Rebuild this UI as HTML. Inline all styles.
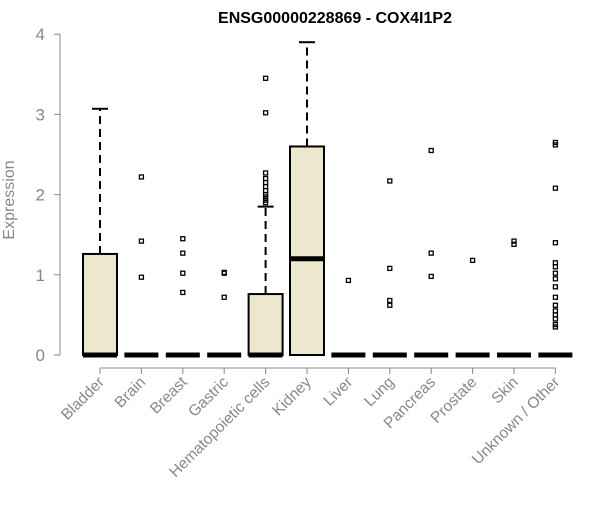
<!DOCTYPE html>
<html><head><meta charset="utf-8"><style>
body{margin:0;background:#fff}
text{font-family:"Liberation Sans",Arial,sans-serif}
</style></head><body>
<svg id="chart" width="600" height="500" xmlns="http://www.w3.org/2000/svg"></svg>
<script>
const categories=["Bladder","Brain","Breast","Gastric","Hematopoietic cells","Kidney","Liver","Lung","Pancreas","Prostate","Skin","Unknown / Other"];
const q1=[0,0,0,0,0,0,0,0,0,0,0,0];
const medians=[0,0,0,0,0,1.2,0,0,0,0,0,0];
const q3=[1.26,0,0,0,0.76,2.6,0,0,0,0,0,0];
const whiskHigh=[3.07,0,0,0,1.85,3.9,0,0,0,0,0,0];
const outliers=[[],[2.22,1.42,0.97],[1.45,1.27,1.02,0.78],[1.03,1.02,0.72],
[3.45,3.02,2.27,2.2,2.15,2.1,2.05,2.0,1.97,1.93,1.9],[],[0.93],[2.17,1.08,0.68,0.62],[2.55,1.27,0.98],[1.18],[1.42,1.38],
[2.65,2.62,2.08,1.4,1.15,1.1,1.02,0.95,0.85,0.72,0.62,0.55,0.5,0.45,0.38,0.35]];
const yTicks=[0,1,2,3,4];
const svg=document.getElementById('chart');
const NS="http://www.w3.org/2000/svg";
const y=v=>355-v*80.2;
const x=i=>100+i*41.4;
function mk(tag,attrs,parent){const e=document.createElementNS(NS,tag);for(const k in attrs)e.setAttribute(k,attrs[k]);(parent||svg).appendChild(e);return e;}
let t=mk('text',{x:335,y:23,'text-anchor':'middle','font-size':16,'font-weight':'bold'});t.textContent="ENSG00000228869 - COX4I1P2";


let ya=mk('g',{});


mk('line',{x1:60,x2:60,y1:y(0),y2:y(4),stroke:'#888'},ya);
yTicks.forEach(v=>{mk('line',{x1:54,x2:60,y1:y(v),y2:y(v),stroke:'#888'},ya);
let l=mk('text',{x:45,y:y(v)+6,'text-anchor':'end','font-size':17,fill:'#888'},ya);l.textContent=v;

});
let yt=mk('text',{transform:'translate(14,200) rotate(-90)','text-anchor':'middle','font-size':16,fill:'#888'});yt.textContent="Expression";


let xa=mk('g',{});


mk('line',{x1:x(0),x2:x(11),y1:368,y2:368,stroke:'#888'},xa);
categories.forEach((c,i)=>{
 mk('line',{x1:x(i),x2:x(i),y1:368,y2:374,stroke:'#888'},xa);
 let l=mk('text',{transform:`translate(${x(i)+5},${383}) rotate(-45)`,'text-anchor':'end','font-size':15.5,fill:'#888'},xa);l.textContent=c;
 
 
 const g=mk('g',{});
 
 
 const cx=x(i),hw=17;
 if(whiskHigh[i]>q3[i]){
  mk('line',{x1:cx,x2:cx,y1:y(q3[i]),y2:y(whiskHigh[i]),stroke:'#000','stroke-width':2,'stroke-dasharray':'8,5'},g);
  mk('line',{x1:cx-8,x2:cx+8,y1:y(whiskHigh[i]),y2:y(whiskHigh[i]),stroke:'#000','stroke-width':2},g);
 }
 if(q3[i]>q1[i]) mk('rect',{x:cx-hw,y:y(q3[i]),width:hw*2,height:y(q1[i])-y(q3[i]),fill:'#ede7cd',stroke:'#000','stroke-width':2},g);
 mk('line',{x1:cx-hw,x2:cx+hw,y1:y(medians[i]),y2:y(medians[i]),stroke:'#000','stroke-width':5},g);
 outliers[i].forEach(v=>{mk('rect',{x:cx-2,y:y(v)-2,width:4,height:4,fill:'none',stroke:'#000','stroke-width':1.3},g);});
});
</script>
</body></html>
